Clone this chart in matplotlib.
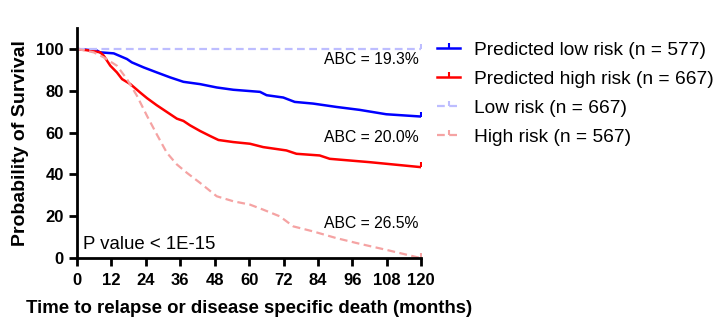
import matplotlib

matplotlib.use("Agg")
import matplotlib.pyplot as plt

plt.rcParams["font.family"] = ["Liberation Sans", "DejaVu Sans"]

# Kaplan-Meier style curves (months, % survival)
pred_low_t = [0, 7, 8, 12.8, 17.4, 19.1, 23.2, 27.8, 32.5, 37.1, 42.9, 48.7, 54.5,
              63.8, 66.1, 71.9, 75.9, 82.3, 90.4, 98.5, 107.8, 120]
pred_low_s = [100, 99.2, 98.4, 97.9, 95.2, 93.6, 91.2, 88.8, 86.4, 84.3, 83.2, 81.6, 80.5,
              79.5, 77.9, 76.8, 74.7, 73.9, 72.3, 70.9, 68.8, 67.7]

pred_high_t = [0, 4.6, 8.1, 9.3, 11.6, 13.9, 15.7, 18.6, 22, 24.4, 27.8, 31.3, 34.8, 37.1,
               39.4, 42.9, 46.4, 49.3, 54.5, 60.3, 64.9, 73, 76.5, 84.6, 88.1, 102, 120]
pred_high_s = [100, 99.2, 98.4, 96.8, 92, 88.8, 85.6, 83.2, 79.2, 76.5, 73.1, 69.9, 66.7, 65.6,
               63.5, 60.8, 58.4, 56.5, 55.5, 54.7, 53.1, 51.5, 49.9, 49.1, 47.5, 45.9, 43.5]

low_t = [0, 120]
low_s = [100, 100]

high_t = [0, 5.8, 9.3, 13.9, 17.4, 20.9, 24.4, 27.8, 31.3, 34.8, 38.3, 42.9, 48.7, 54.5,
          60.3, 64.9, 70.7, 75.4, 82.3, 90.4, 98.5, 107.8, 120]
high_s = [100, 98.4, 96, 92, 85.6, 77.6, 68, 59.2, 50.4, 44.8, 40.8, 36, 29.6, 27.2,
          25.6, 23.2, 20, 15.2, 12.8, 9.6, 6.9, 4, 0]

labels = ["Predicted low risk (n = 577)", "Predicted high risk (n = 667)",
          "Low risk (n = 667)", "High risk (n = 567)"]
abc_text = ["ABC = 19.3%", "ABC = 20.0%", "ABC = 26.5%"]
abc_y = [95, 57.5, 16.5]
x_ticks = list(range(0, 121, 12))
y_ticks = [0, 20, 40, 60, 80, 100]

fig = plt.figure(figsize=(7.2, 3.34), dpi=100)
ax = fig.add_axes([0.107, 0.227, 0.478, 0.689])

# marker 2 = tick pointing up (censor mark)
ax.plot(pred_low_t, pred_low_s, color="#0000FF", lw=1.8,
        marker=2, markevery=[len(pred_low_t) - 1], ms=3.5, mew=1.5, label=labels[0])
ax.plot(pred_high_t, pred_high_s, color="#FF0000", lw=1.8,
        marker=2, markevery=[len(pred_high_t) - 1], ms=3.5, mew=1.5, label=labels[1])
ax.plot(low_t, low_s, color="#BDBDFF", lw=1.6, ls=(0, (3.5, 2)),
        marker=2, markevery=[1], ms=3.5, mew=1.5, label=labels[2])
ax.plot(high_t, high_s, color="#F5A3A3", lw=1.6, ls=(0, (3.5, 2)),
        marker=2, markevery=[len(high_t) - 1], ms=3.5, mew=1.5, label=labels[3])

for txt, yv in zip(abc_text, abc_y):
    ax.text(119, yv, txt, ha="right", va="center", fontsize=11.3)
ax.text(2, 2.5, "P value < 1E-15", ha="left", va="bottom", fontsize=13.4)

ax.set_xlim(0, 120)
ax.set_ylim(0, 110)
ax.set_xticks(x_ticks)
ax.set_yticks(y_ticks)
for s in ["top", "right"]:
    ax.spines[s].set_visible(False)
for s in ["left", "bottom"]:
    ax.spines[s].set_linewidth(2)
ax.tick_params(width=2, length=6, labelsize=12)
ax.tick_params(axis="x", pad=5)
ax.tick_params(axis="y", pad=3.5)
for lab in ax.get_xticklabels() + ax.get_yticklabels():
    lab.set_fontweight("bold")
ax.set_xlabel("Time to relapse or disease specific death (months)", fontsize=13.4,
              fontweight="bold", labelpad=8)
ax.set_ylabel("Probability of Survival", fontsize=14, fontweight="bold", labelpad=5)

fig.legend(loc="upper left", bbox_to_anchor=(0.607, 0.875), frameon=False,
           fontsize=13.8, handlelength=1.2, handletextpad=0.75, labelspacing=0.6,
           borderpad=0, borderaxespad=0, numpoints=1)

fig.savefig("out.png", dpi=100)
